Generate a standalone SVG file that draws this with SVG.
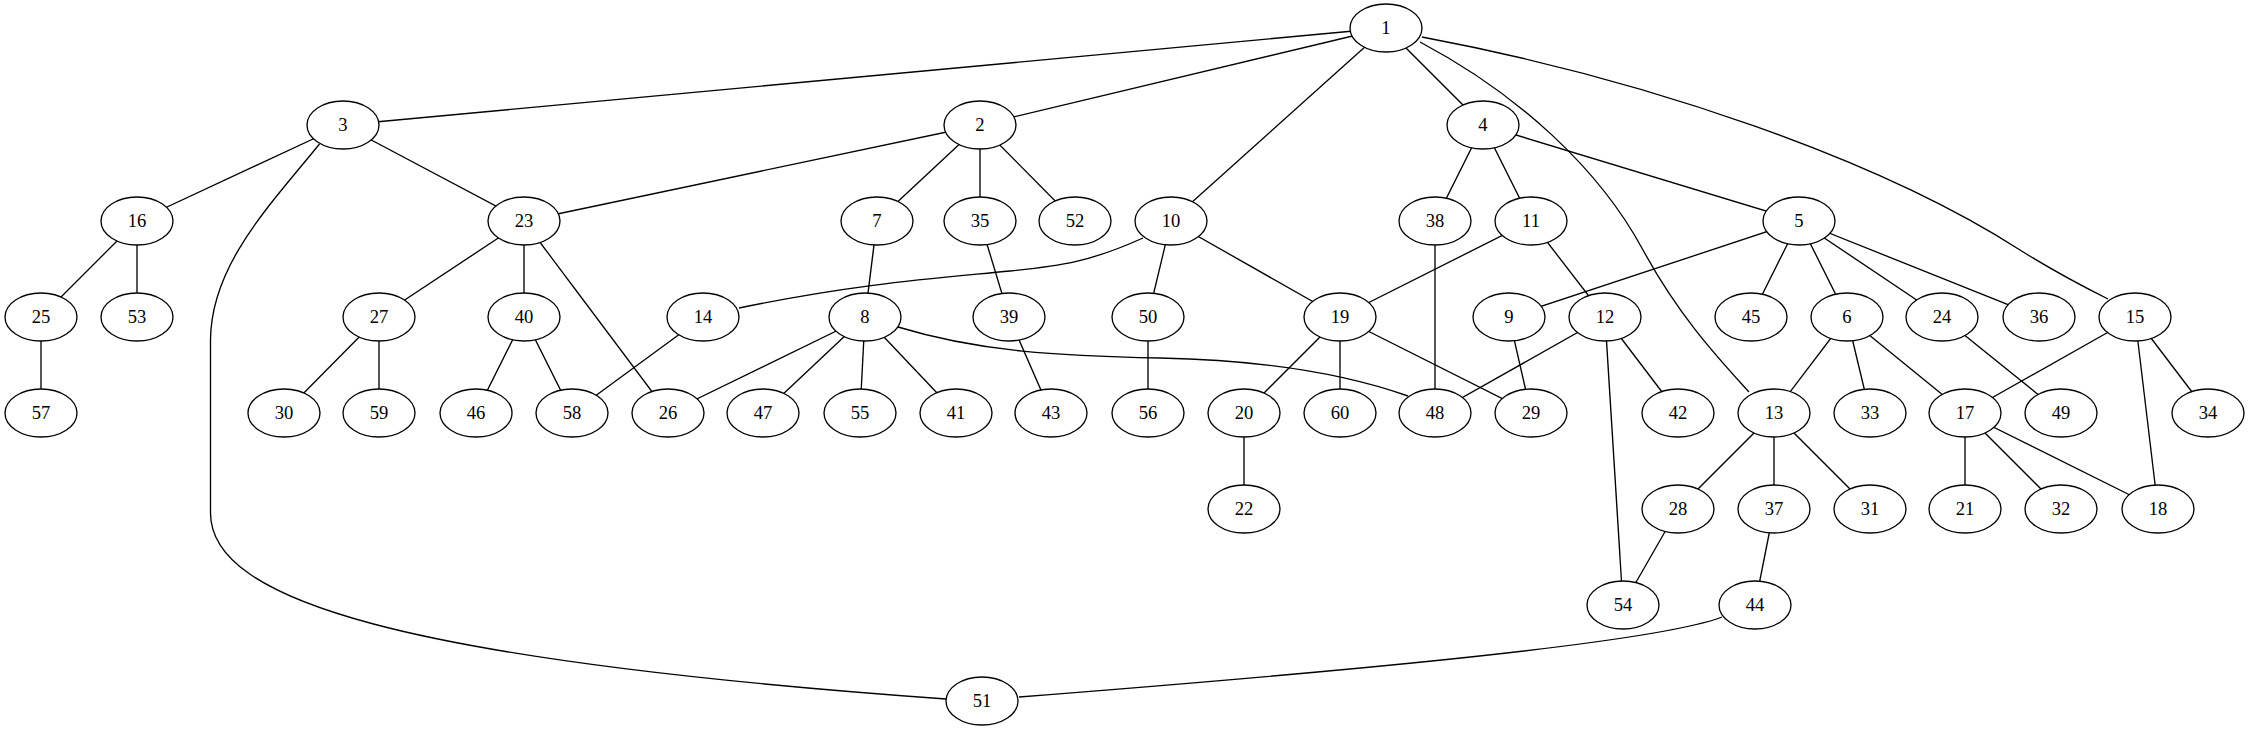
<svg xmlns="http://www.w3.org/2000/svg" width="2251" height="731" viewBox="0 0 2251 731">
<style>
.e{fill:none;stroke:#000;stroke-width:1.33}
.n ellipse{fill:#fff;stroke:#000;stroke-width:1.33}
.n text{font-family:"Liberation Serif","Times New Roman",serif;font-size:18.6px;text-anchor:middle;fill:#000}
</style>
<rect width="2251" height="731" fill="#fff"/>
<g id="edges" class="e">
<line x1="1386" y1="28" x2="343" y2="125"/>
<line x1="1386" y1="28" x2="980" y2="125"/>
<line x1="1386" y1="28" x2="1171" y2="221"/>
<line x1="1386" y1="28" x2="1483" y2="125"/>
<path d="M1420,42 C1520,95 1600,170 1643,250 C1680,318 1720,360 1749,392"/>
<path d="M1422,37 C1650,80 1880,160 2020,250 C2060,275 2090,290 2108,299"/>
<line x1="343" y1="125" x2="137" y2="221"/>
<line x1="343" y1="125" x2="524" y2="221"/>
<path d="M319.5,144 C270,205 211,265 210.5,340 L210.5,513 C210.5,600 400,660 946,699"/>
<line x1="980" y1="125" x2="524" y2="221"/>
<line x1="980" y1="125" x2="877" y2="221"/>
<line x1="980" y1="125" x2="980" y2="221"/>
<line x1="980" y1="125" x2="1075" y2="221"/>
<line x1="1483" y1="125" x2="1435" y2="221"/>
<line x1="1483" y1="125" x2="1531" y2="221"/>
<line x1="1483" y1="125" x2="1799" y2="221"/>
<line x1="137" y1="221" x2="41" y2="317"/>
<line x1="137" y1="221" x2="137" y2="317"/>
<line x1="524" y1="221" x2="379" y2="317"/>
<line x1="524" y1="221" x2="524" y2="317"/>
<line x1="524" y1="221" x2="668" y2="413"/>
<line x1="877" y1="221" x2="865" y2="317"/>
<line x1="980" y1="221" x2="1009" y2="317"/>
<path d="M1143,238 C1090,262 1060,266 1010,271 C940,278 860,283 739,308"/>
<line x1="1171" y1="221" x2="1148" y2="317"/>
<line x1="1171" y1="221" x2="1340" y2="317"/>
<line x1="1435" y1="221" x2="1435" y2="413"/>
<line x1="1531" y1="221" x2="1340" y2="317"/>
<line x1="1531" y1="221" x2="1605" y2="317"/>
<line x1="1799" y1="221" x2="1509" y2="317"/>
<line x1="1799" y1="221" x2="1751" y2="317"/>
<line x1="1799" y1="221" x2="1847" y2="317"/>
<line x1="1799" y1="221" x2="1942" y2="317"/>
<line x1="1799" y1="221" x2="2039" y2="317"/>
<line x1="41" y1="317" x2="41" y2="413"/>
<line x1="379" y1="317" x2="284" y2="413"/>
<line x1="379" y1="317" x2="379" y2="413"/>
<line x1="524" y1="317" x2="476" y2="413"/>
<line x1="524" y1="317" x2="572" y2="413"/>
<line x1="703" y1="317" x2="572" y2="413"/>
<line x1="865" y1="317" x2="668" y2="413"/>
<line x1="865" y1="317" x2="763" y2="413"/>
<line x1="865" y1="317" x2="860" y2="413"/>
<line x1="865" y1="317" x2="956" y2="413"/>
<path d="M898,327 C980,352 1060,356 1160,358 C1260,360 1340,372 1408,396"/>
<line x1="1009" y1="317" x2="1051" y2="413"/>
<line x1="1148" y1="317" x2="1148" y2="413"/>
<line x1="1340" y1="317" x2="1244" y2="413"/>
<line x1="1340" y1="317" x2="1340" y2="413"/>
<line x1="1340" y1="317" x2="1531" y2="413"/>
<line x1="1509" y1="317" x2="1531" y2="413"/>
<line x1="1605" y1="317" x2="1435" y2="413"/>
<line x1="1605" y1="317" x2="1678" y2="413"/>
<line x1="1605" y1="317" x2="1623" y2="605"/>
<line x1="1847" y1="317" x2="1774" y2="413"/>
<line x1="1847" y1="317" x2="1870" y2="413"/>
<line x1="1847" y1="317" x2="1965" y2="413"/>
<line x1="1942" y1="317" x2="2061" y2="413"/>
<line x1="2135" y1="317" x2="1965" y2="413"/>
<line x1="2135" y1="317" x2="2158" y2="509"/>
<line x1="2135" y1="317" x2="2208" y2="413"/>
<line x1="1244" y1="413" x2="1244" y2="509"/>
<line x1="1774" y1="413" x2="1678" y2="509"/>
<line x1="1774" y1="413" x2="1774" y2="509"/>
<line x1="1774" y1="413" x2="1870" y2="509"/>
<line x1="1965" y1="413" x2="1965" y2="509"/>
<line x1="1965" y1="413" x2="2061" y2="509"/>
<line x1="1965" y1="413" x2="2158" y2="509"/>
<line x1="1678" y1="509" x2="1623" y2="605"/>
<line x1="1774" y1="509" x2="1755" y2="605"/>
<path d="M1722,617 C1650,645 1300,675 1019,697"/>
</g>
<g id="node1" class="n"><ellipse cx="1386" cy="28" rx="36" ry="24"/><text x="1386" y="34">1</text></g>
<g id="node3" class="n"><ellipse cx="343" cy="125" rx="36" ry="24"/><text x="343" y="131">3</text></g>
<g id="node2" class="n"><ellipse cx="980" cy="125" rx="36" ry="24"/><text x="980" y="131">2</text></g>
<g id="node4" class="n"><ellipse cx="1483" cy="125" rx="36" ry="24"/><text x="1483" y="131">4</text></g>
<g id="node16" class="n"><ellipse cx="137" cy="221" rx="36" ry="24"/><text x="137" y="227">16</text></g>
<g id="node23" class="n"><ellipse cx="524" cy="221" rx="36" ry="24"/><text x="524" y="227">23</text></g>
<g id="node7" class="n"><ellipse cx="877" cy="221" rx="36" ry="24"/><text x="877" y="227">7</text></g>
<g id="node35" class="n"><ellipse cx="980" cy="221" rx="36" ry="24"/><text x="980" y="227">35</text></g>
<g id="node52" class="n"><ellipse cx="1075" cy="221" rx="36" ry="24"/><text x="1075" y="227">52</text></g>
<g id="node10" class="n"><ellipse cx="1171" cy="221" rx="36" ry="24"/><text x="1171" y="227">10</text></g>
<g id="node38" class="n"><ellipse cx="1435" cy="221" rx="36" ry="24"/><text x="1435" y="227">38</text></g>
<g id="node11" class="n"><ellipse cx="1531" cy="221" rx="36" ry="24"/><text x="1531" y="227">11</text></g>
<g id="node5" class="n"><ellipse cx="1799" cy="221" rx="36" ry="24"/><text x="1799" y="227">5</text></g>
<g id="node25" class="n"><ellipse cx="41" cy="317" rx="36" ry="24"/><text x="41" y="323">25</text></g>
<g id="node53" class="n"><ellipse cx="137" cy="317" rx="36" ry="24"/><text x="137" y="323">53</text></g>
<g id="node27" class="n"><ellipse cx="379" cy="317" rx="36" ry="24"/><text x="379" y="323">27</text></g>
<g id="node40" class="n"><ellipse cx="524" cy="317" rx="36" ry="24"/><text x="524" y="323">40</text></g>
<g id="node14" class="n"><ellipse cx="703" cy="317" rx="36" ry="24"/><text x="703" y="323">14</text></g>
<g id="node8" class="n"><ellipse cx="865" cy="317" rx="36" ry="24"/><text x="865" y="323">8</text></g>
<g id="node39" class="n"><ellipse cx="1009" cy="317" rx="36" ry="24"/><text x="1009" y="323">39</text></g>
<g id="node50" class="n"><ellipse cx="1148" cy="317" rx="36" ry="24"/><text x="1148" y="323">50</text></g>
<g id="node19" class="n"><ellipse cx="1340" cy="317" rx="36" ry="24"/><text x="1340" y="323">19</text></g>
<g id="node9" class="n"><ellipse cx="1509" cy="317" rx="36" ry="24"/><text x="1509" y="323">9</text></g>
<g id="node12" class="n"><ellipse cx="1605" cy="317" rx="36" ry="24"/><text x="1605" y="323">12</text></g>
<g id="node45" class="n"><ellipse cx="1751" cy="317" rx="36" ry="24"/><text x="1751" y="323">45</text></g>
<g id="node6" class="n"><ellipse cx="1847" cy="317" rx="36" ry="24"/><text x="1847" y="323">6</text></g>
<g id="node24" class="n"><ellipse cx="1942" cy="317" rx="36" ry="24"/><text x="1942" y="323">24</text></g>
<g id="node36" class="n"><ellipse cx="2039" cy="317" rx="36" ry="24"/><text x="2039" y="323">36</text></g>
<g id="node15" class="n"><ellipse cx="2135" cy="317" rx="36" ry="24"/><text x="2135" y="323">15</text></g>
<g id="node57" class="n"><ellipse cx="41" cy="413" rx="36" ry="24"/><text x="41" y="419">57</text></g>
<g id="node30" class="n"><ellipse cx="284" cy="413" rx="36" ry="24"/><text x="284" y="419">30</text></g>
<g id="node59" class="n"><ellipse cx="379" cy="413" rx="36" ry="24"/><text x="379" y="419">59</text></g>
<g id="node46" class="n"><ellipse cx="476" cy="413" rx="36" ry="24"/><text x="476" y="419">46</text></g>
<g id="node58" class="n"><ellipse cx="572" cy="413" rx="36" ry="24"/><text x="572" y="419">58</text></g>
<g id="node26" class="n"><ellipse cx="668" cy="413" rx="36" ry="24"/><text x="668" y="419">26</text></g>
<g id="node47" class="n"><ellipse cx="763" cy="413" rx="36" ry="24"/><text x="763" y="419">47</text></g>
<g id="node55" class="n"><ellipse cx="860" cy="413" rx="36" ry="24"/><text x="860" y="419">55</text></g>
<g id="node41" class="n"><ellipse cx="956" cy="413" rx="36" ry="24"/><text x="956" y="419">41</text></g>
<g id="node43" class="n"><ellipse cx="1051" cy="413" rx="36" ry="24"/><text x="1051" y="419">43</text></g>
<g id="node56" class="n"><ellipse cx="1148" cy="413" rx="36" ry="24"/><text x="1148" y="419">56</text></g>
<g id="node20" class="n"><ellipse cx="1244" cy="413" rx="36" ry="24"/><text x="1244" y="419">20</text></g>
<g id="node60" class="n"><ellipse cx="1340" cy="413" rx="36" ry="24"/><text x="1340" y="419">60</text></g>
<g id="node48" class="n"><ellipse cx="1435" cy="413" rx="36" ry="24"/><text x="1435" y="419">48</text></g>
<g id="node29" class="n"><ellipse cx="1531" cy="413" rx="36" ry="24"/><text x="1531" y="419">29</text></g>
<g id="node42" class="n"><ellipse cx="1678" cy="413" rx="36" ry="24"/><text x="1678" y="419">42</text></g>
<g id="node13" class="n"><ellipse cx="1774" cy="413" rx="36" ry="24"/><text x="1774" y="419">13</text></g>
<g id="node33" class="n"><ellipse cx="1870" cy="413" rx="36" ry="24"/><text x="1870" y="419">33</text></g>
<g id="node17" class="n"><ellipse cx="1965" cy="413" rx="36" ry="24"/><text x="1965" y="419">17</text></g>
<g id="node49" class="n"><ellipse cx="2061" cy="413" rx="36" ry="24"/><text x="2061" y="419">49</text></g>
<g id="node34" class="n"><ellipse cx="2208" cy="413" rx="36" ry="24"/><text x="2208" y="419">34</text></g>
<g id="node22" class="n"><ellipse cx="1244" cy="509" rx="36" ry="24"/><text x="1244" y="515">22</text></g>
<g id="node28" class="n"><ellipse cx="1678" cy="509" rx="36" ry="24"/><text x="1678" y="515">28</text></g>
<g id="node37" class="n"><ellipse cx="1774" cy="509" rx="36" ry="24"/><text x="1774" y="515">37</text></g>
<g id="node31" class="n"><ellipse cx="1870" cy="509" rx="36" ry="24"/><text x="1870" y="515">31</text></g>
<g id="node21" class="n"><ellipse cx="1965" cy="509" rx="36" ry="24"/><text x="1965" y="515">21</text></g>
<g id="node32" class="n"><ellipse cx="2061" cy="509" rx="36" ry="24"/><text x="2061" y="515">32</text></g>
<g id="node18" class="n"><ellipse cx="2158" cy="509" rx="36" ry="24"/><text x="2158" y="515">18</text></g>
<g id="node54" class="n"><ellipse cx="1623" cy="605" rx="36" ry="24"/><text x="1623" y="611">54</text></g>
<g id="node44" class="n"><ellipse cx="1755" cy="605" rx="36" ry="24"/><text x="1755" y="611">44</text></g>
<g id="node51" class="n"><ellipse cx="982" cy="701" rx="36" ry="24"/><text x="982" y="707">51</text></g>
</svg>
